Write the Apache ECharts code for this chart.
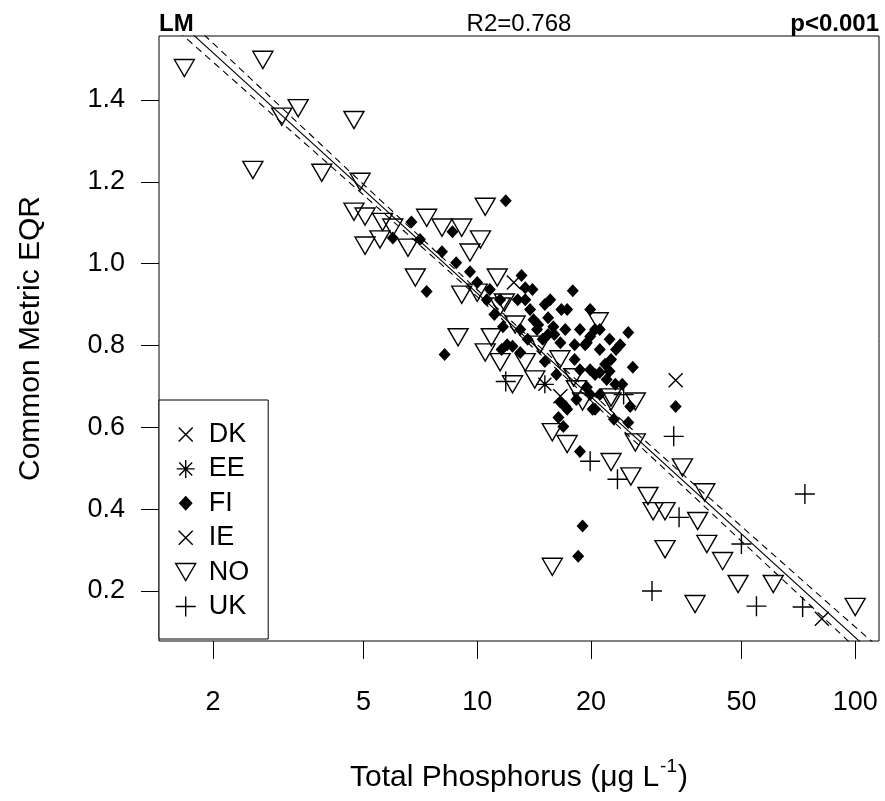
<!DOCTYPE html>
<html><head><meta charset="utf-8">
<script src="https://cdn.jsdelivr.net/npm/echarts@6/dist/echarts.min.js"></script>
<style>html,body{margin:0;padding:0;background:#fff}#c{width:885px;height:801px}</style>
</head><body><div id="c"></div>
<script>
// ---- data ----
const xTickValues = [2, 5, 10, 20, 50, 100];
const yTickValues = [0.2, 0.4, 0.6, 0.8, 1.0, 1.2, 1.4];
const countryNames = ['DK', 'EE', 'FI', 'IE', 'NO', 'UK'];

const dkTP  = [33.5, 81.6];
const dkEQR = [0.715, 0.132];

const eeTP  = [15.1];
const eeEQR = [0.705];

const fiTP  = [6.7, 5.98, 7.06, 8.6, 8.07, 8.8, 9.57, 7.35, 11.9, 13.1, 8.2, 17.9, 15.1, 16.7, 13.8, 14.1, 15.9, 18.7, 19.9, 18.1,
               16.6, 14.9, 11.7, 12.4, 11.6, 13.0, 25.1, 23.3, 21.1, 25.8, 33.5, 25.4, 17.3, 19.5, 18.1, 21.1, 19.5, 17.3, 16.9, 12.0,
               16.6, 16.4, 19.0, 18.5, 25.1, 17.1, 18.7, 10.0, 10.6, 11.1, 12.8, 13.4, 14.4, 15.4, 16.0, 19.9, 21.1, 22.4, 22.6, 23.9,
               20.5, 18.7, 16.2, 15.1, 22.0, 24.2, 23.0, 18.3, 19.9, 20.5,
               14.5, 15.4, 17.1, 19.3, 20.5, 21.8, 23.2, 21.1, 20.2, 22.4, 13.4, 14.0, 15.6, 10.8, 11.5, 13.0, 13.6, 19.9];
const fiEQR = [1.102, 1.063, 1.059, 1.078, 1.029, 1.002, 0.980, 0.932, 1.154, 0.971, 0.778, 0.934, 0.900, 0.888, 0.888, 0.863, 0.846, 0.839, 0.822, 0.802,
               0.807, 0.815, 0.846, 0.798, 0.790, 0.783, 0.832, 0.790, 0.790, 0.747, 0.651, 0.651, 0.888, 0.807, 0.766, 0.734, 0.698, 0.644, 0.602, 0.802,
               0.661, 0.624, 0.359, 0.285, 0.612, 0.651, 0.541, 0.954, 0.912, 0.876, 0.912, 0.941, 0.839, 0.868, 0.827, 0.888, 0.839, 0.815, 0.766, 0.802,
               0.729, 0.741, 0.729, 0.761, 0.717, 0.705, 0.620, 0.668, 0.680, 0.644,
               0.851, 0.827, 0.839, 0.802, 0.839, 0.754, 0.705, 0.680, 0.644, 0.737, 0.912, 0.937, 0.912, 0.937, 0.912, 0.839, 0.815, 0.741];

const ieTP  = [12.5, 16.6];
const ieEQR = [0.954, 0.676];

const noTP  = [1.68, 2.71, 3.36, 3.04, 4.72, 2.55, 3.88, 4.90, 4.72, 5.05, 5.05, 5.62, 5.53, 6.56, 5.98, 6.86, 7.35, 8.07, 9.10, 10.2,
               9.57, 9.10, 10.5, 11.3, 10.0, 11.5, 8.90, 10.9, 10.5, 11.5, 13.4, 14.2, 12.4, 20.9, 22.6, 11.8, 18.3, 19.0, 22.6, 26.2,
               15.8, 17.3, 26.2, 22.6, 25.5, 28.3, 29.2, 31.4, 38.3, 34.9, 40.0, 31.4, 40.5, 44.6, 49.0, 60.7, 37.7, 100, 15.8, 12.6,
               14.65, 16.55, 18.0];
const noEQR = [1.478, 1.498, 1.380, 1.359, 1.351, 1.229, 1.222, 1.200, 1.127, 1.115, 1.044, 1.102, 1.059, 1.039, 1.088, 0.966, 1.112, 1.088, 1.088, 1.059,
               1.027, 0.924, 1.139, 0.966, 0.929, 0.895, 0.820, 0.820, 0.783, 0.759, 0.759, 0.717, 0.705, 0.859, 0.673, 0.905, 0.693, 0.663, 0.663, 0.663,
               0.588, 0.559, 0.563, 0.515, 0.480, 0.432, 0.395, 0.395, 0.371, 0.502, 0.441, 0.302, 0.315, 0.273, 0.217, 0.217, 0.168, 0.161, 0.259, 0.851,
               0.802, 0.766, 0.722];

const ukTP  = [11.9, 24.4, 19.9, 23.5, 33.1, 34.2, 29.0, 50.0, 54.8, 72.6, 73.6];
const ukEQR = [0.712, 0.680, 0.517, 0.473, 0.578, 0.380, 0.200, 0.315, 0.163, 0.161, 0.437];

// fitted line and confidence band
const fitTP  = [1.45, 120];
const fitEQR = [1.633, 0.020];
const ciTP    = [1.45, 3, 5, 8, 12, 18, 30, 50, 80, 120];
const ciUpper = [1.660, 1.386, 1.194, 1.019, 0.869, 0.722, 0.540, 0.358, 0.191, 0.048];
const ciLower = [1.607, 1.349, 1.168, 1.000, 0.853, 0.704, 0.514, 0.322, 0.146, -0.007];

const topLeftText = 'LM';
const topMidText = 'R2=0.768';
const topRightText = 'p<0.001';

// ---- build ----
const FONT = '"Liberation Sans", Arial, sans-serif';
const frame = 'M0,0L0,0M20,20L20,20';
const sym = {
  DK: 'path://' + frame + 'M3,3L17,17M17,3L3,17',
  EE: 'path://' + frame + 'M10,1L10,19M1,10L19,10M3.5,3.5L16.5,16.5M16.5,3.5L3.5,16.5',
  FI: 'path://' + frame + 'M10,3.5L16,10L10,16.5L4,10Z',
  IE: 'path://' + frame + 'M3,3L17,17M17,3L3,17',
  NO: 'path://' + frame + 'M0,1.4L20,1.4L10,18.6Z',
  UK: 'path://' + frame + 'M10,0L10,20M0,10L20,10'
};
const seriesData = {
  DK: [dkTP, dkEQR], EE: [eeTP, eeEQR], FI: [fiTP, fiEQR],
  IE: [ieTP, ieEQR], NO: [noTP, noEQR], UK: [ukTP, ukEQR]
};
const zip = (a, b) => a.map((v, i) => [v, b[i]]);

const scatterSeries = countryNames.map(name => ({
  name: name,
  type: 'scatter',
  symbol: sym[name],
  symbolSize: 20,
  data: zip(seriesData[name][0], seriesData[name][1]),
  itemStyle: name === 'FI'
    ? { color: '#000', borderColor: '#000', borderWidth: 0, opacity: 1 }
    : { color: 'rgba(0,0,0,0)', borderColor: '#000', borderWidth: 1.4, opacity: 1 },
  emphasis: { disabled: true },
  z: 2
}));

const lineBase = { type: 'line', symbol: 'none', silent: true, clip: true, z: 3, emphasis: { disabled: true } };
const lineSeries = [
  Object.assign({}, lineBase, { name: 'fit', data: zip(fitTP, fitEQR), lineStyle: { color: '#000', width: 1.1 } }),
  Object.assign({}, lineBase, { name: 'upper', data: zip(ciTP, ciUpper), lineStyle: { color: '#000', width: 1.1, type: [7, 5] } }),
  Object.assign({}, lineBase, { name: 'lower', data: zip(ciTP, ciLower), lineStyle: { color: '#000', width: 1.1, type: [7, 5] } })
];

const chart = echarts.init(document.getElementById('c'), null, { renderer: 'canvas' });
chart.setOption({
  animation: false,
  backgroundColor: '#fff',
  textStyle: { fontFamily: FONT },
  grid: { left: 159, right: 6, top: 36, bottom: 160, show: true, borderColor: '#000', borderWidth: 1,
          backgroundColor: 'transparent', containLabel: false, outerBoundsMode: 'none' },
  xAxis: {
    type: 'log', logBase: 10, min: 1.4395, max: 115.6,
    axisLine: { show: false },
    splitLine: { show: false },
    minorTick: { show: false },
    axisTick: { show: true, inside: false, length: 18, lineStyle: { color: '#000', width: 1 }, customValues: xTickValues },
    axisLabel: { customValues: xTickValues, margin: 48, fontSize: 27, color: '#000', fontFamily: FONT,
                 formatter: v => String(Math.round(v)) },
    name: 'Total Phosphorus (μg L{sup|-1})',
    nameLocation: 'middle', nameGap: 116,
    nameTextStyle: { fontSize: 30, lineHeight: 42, color: '#000', fontFamily: FONT,
                     rich: { sup: { fontSize: 19, color: '#000', fontFamily: FONT, verticalAlign: 'top', padding: [0, 1, 0, 1] } } }
  },
  yAxis: {
    type: 'value', min: 0.0778, max: 1.5564,
    axisLine: { show: false },
    splitLine: { show: false },
    axisTick: { show: true, inside: false, length: 18, lineStyle: { color: '#000', width: 1 }, customValues: yTickValues },
    axisLabel: { customValues: yTickValues, margin: 34, fontSize: 27, color: '#000', fontFamily: FONT,
                 formatter: v => v.toFixed(1) },
    name: 'Common Metric EQR',
    nameLocation: 'middle', nameGap: 113, nameRotate: 90,
    nameTextStyle: { fontSize: 30, color: '#000', fontFamily: FONT }
  },
  legend: {
    show: true, orient: 'vertical', left: 159, top: 400,
    data: countryNames,
    itemWidth: 20, itemHeight: 20, itemGap: 7.4,
    padding: [21, 19, 19, 16],
    backgroundColor: '#fff', borderColor: '#000', borderWidth: 1, borderRadius: 0,
    selectedMode: false,
    itemStyle: { borderWidth: 1.4 },
    textStyle: { fontSize: 27, color: '#000', fontFamily: FONT, padding: [0, 0, 0, 8] },
    z: 10
  },
  graphic: [
    { type: 'text', x: 159, y: 24, z: 10, style: { text: topLeftText, font: 'bold 24px ' + FONT, fill: '#000', textAlign: 'left', textVerticalAlign: 'middle' } },
    { type: 'text', x: 519, y: 24, z: 10, style: { text: topMidText, font: '24px ' + FONT, fill: '#000', textAlign: 'center', textVerticalAlign: 'middle' } },
    { type: 'text', x: 879, y: 24, z: 10, style: { text: topRightText, font: 'bold 24px ' + FONT, fill: '#000', textAlign: 'right', textVerticalAlign: 'middle' } }
  ],
  series: scatterSeries.concat(lineSeries)
});
</script>
</body></html>
